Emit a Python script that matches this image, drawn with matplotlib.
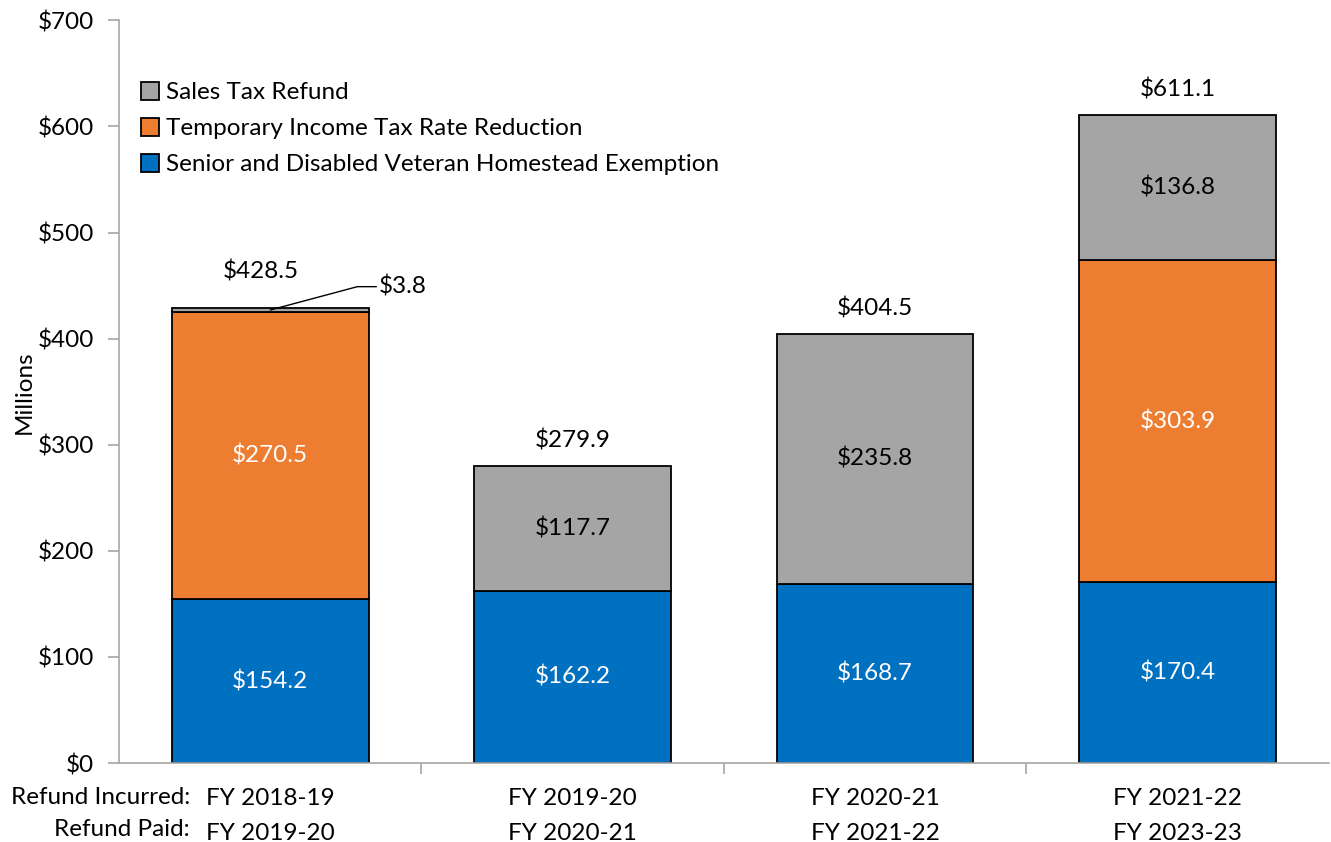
import matplotlib.pyplot as plt
import numpy as np

plt.rcParams['font.family'] = ['Lato', 'DejaVu Sans']

# --- Data ---
incurred = ['FY 2018-19', 'FY 2019-20', 'FY 2020-21', 'FY 2021-22']
paid = ['FY 2019-20', 'FY 2020-21', 'FY 2021-22', 'FY 2023-23']
senior = [154.2, 162.2, 168.7, 170.4]
income = [270.5, 0.0, 0.0, 303.9]
sales = [3.8, 117.7, 235.8, 136.8]
totals = [428.5, 279.9, 404.5, 611.1]

c_blue = '#0070C0'
c_orange = '#ED7D31'
c_gray = '#A5A5A5'
axis_col = '#A6A6A6'

fig = plt.figure(figsize=(13.31, 8.42), dpi=100)
ax = fig.add_axes([0.0894, 0.0938, 0.909, 0.882])

x = np.arange(len(incurred))
w = 0.65
ekw = dict(edgecolor='black', linewidth=1.3, width=w)

b1 = ax.bar(x, senior, color=c_blue, label='Senior and Disabled Veteran Homestead Exemption', **ekw)
inc_mask = np.array(income) > 0
b2 = ax.bar(x[inc_mask], np.array(income)[inc_mask], bottom=np.array(senior)[inc_mask],
            color=c_orange, label='Temporary Income Tax Rate Reduction', **ekw)
bottom3 = np.array(senior) + np.array(income)
b3 = ax.bar(x, sales, bottom=bottom3, color=c_gray, label='Sales Tax Refund', **ekw)

fs = 17.5
# segment labels
for i in range(len(x)):
    ax.text(x[i], senior[i] / 2, f'${senior[i]:.1f}', ha='center', va='center',
            color='white', fontsize=fs)
    if income[i] > 0:
        ax.text(x[i], senior[i] + income[i] / 2, f'${income[i]:.1f}', ha='center',
                va='center', color='white', fontsize=fs)
    if sales[i] > 20:
        ax.text(x[i], bottom3[i] + sales[i] / 2, f'${sales[i]:.1f}', ha='center',
                va='center', color='black', fontsize=fs)

# totals
for i in range(len(x)):
    dx = -0.03 if i == 0 else 0
    dy = 35 if i == 0 else 24
    ax.text(x[i] + dx, totals[i] + dy, f'${totals[i]:.1f}', ha='center', va='center',
            fontsize=fs)

# small sales value for first bar
ax.annotate(f'${sales[0]:.1f}', xy=(x[0], totals[0] - 1.5), xytext=(x[0] + 0.36, 449),
            fontsize=fs, va='center', ha='left',
            arrowprops=dict(arrowstyle='-', color='black', lw=1, shrinkA=0, shrinkB=0,
                            connectionstyle='angle,angleA=0,angleB=15,rad=0'))

ax.set_xlim(-0.5, len(x) - 0.5)
ax.set_ylim(0, 700)
ax.set_yticks(np.arange(0, 701, 100))
ax.set_yticklabels([f'${v}' for v in range(0, 701, 100)], fontsize=fs)
ax.set_ylabel('Millions', fontsize=fs, labelpad=2)

ax.set_xticks(x)
ax.set_xticklabels([f'{a}\n{b}' for a, b in zip(incurred, paid)], fontsize=fs,
                   linespacing=1.85)
ax.tick_params(axis='x', length=0, pad=18)
ax.set_xticks(np.arange(0.5, len(x) - 0.5, 1), minor=True)
ax.tick_params(axis='x', which='minor', length=8, color=axis_col, width=1.2)
ax.tick_params(axis='y', length=8, color=axis_col, width=1.2, pad=10)

for s in ['top', 'right']:
    ax.spines[s].set_visible(False)
for s in ['left', 'bottom']:
    ax.spines[s].set_color(axis_col)
    ax.spines[s].set_linewidth(1.2)

fig.text(190 / 1331, 1 - 797 / 842, 'Refund Incurred:', ha='right', va='center', fontsize=fs)
fig.text(190 / 1331, 1 - 829 / 842, 'Refund Paid:', ha='right', va='center', fontsize=fs)

handles = [b3, b2, b1]
ax.legend(handles=handles, labels=[h.get_label() for h in handles], loc='upper left',
          bbox_to_anchor=(0.01, 0.93), frameon=False, fontsize=fs, handlelength=0.75,
          handleheight=0.75, handletextpad=0.3, labelspacing=0.6, borderaxespad=0)

fig.savefig('out.png', dpi=100)
